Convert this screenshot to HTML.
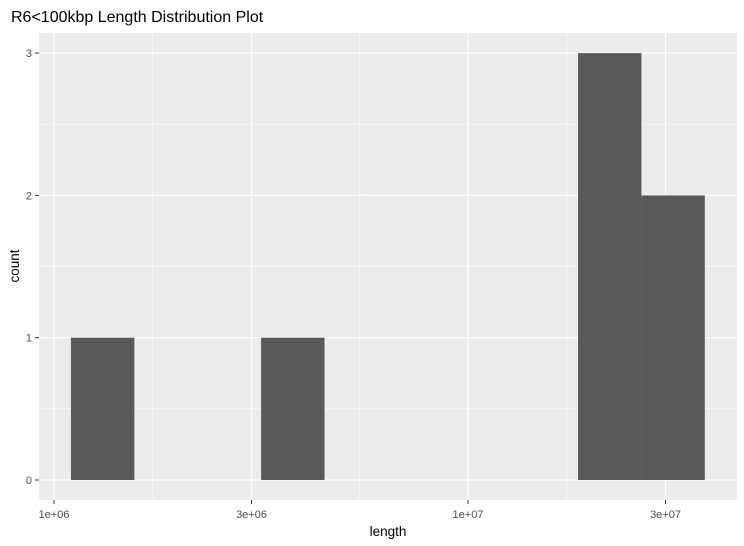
<!DOCTYPE html>
<html><head><meta charset="utf-8"><style>body{margin:0;background:#fff}svg{display:block;font-family:"Liberation Sans",sans-serif}</style></head>
<body>
<svg id="c" width="744" height="546">
<text x="11" y="22" font-size="16" fill="#000">R6&lt;100kbp Length Distribution Plot</text>
<rect x="39" y="33" width="698" height="467" fill="#ebebeb"/>
<g id="grid"></g><g id="bars"></g><g id="axes"></g>
<text x="388" y="536" font-size="13.5" text-anchor="middle">length</text>
<text transform="translate(19,266) rotate(-90)" font-size="13.5" text-anchor="middle">count</text>
</svg>
<script>
const binStartLog = 6.041;
const binWidthLog = 0.1531;
const counts = [1,0,0,1,0,0,0,0,3,2];
const yTicks = [0,1,2,3];
const xTickValues = [1e6,3e6,1e7,3e7];
const xTickLabels = ["1e+06","3e+06","1e+07","3e+07"];
const NS="http://www.w3.org/2000/svg";
const sx=v=>54+(Math.log10(v)-6)*414;
const sxl=l=>54+(l-6)*414;
const sy=v=>480-v*142.3;
function mk(t,a,p){const e=document.createElementNS(NS,t);for(const k in a)e.setAttribute(k,a[k]);p.appendChild(e);return e;}
const g=document.getElementById('grid'),b=document.getElementById('bars'),ax=document.getElementById('axes');
for(let i=0;i<yTicks.length-1;i++){const l=mk('line',{x1:39,x2:737,y1:sy(yTicks[i]+0.5),y2:sy(yTicks[i]+0.5),stroke:'#fff','stroke-width':0.6},g);

}
for(let i=0;i<xTickValues.length-1;i++){const m=Math.sqrt(xTickValues[i]*xTickValues[i+1]);const l=mk('line',{x1:sx(m),x2:sx(m),y1:33,y2:500,stroke:'#fff','stroke-width':0.6},g);

}
yTicks.forEach(v=>{const l=mk('line',{x1:39,x2:737,y1:sy(v),y2:sy(v),stroke:'#fff','stroke-width':1.2},g);


const t=mk('line',{x1:35,x2:39,y1:sy(v),y2:sy(v),stroke:'#333'},ax);


const tx=mk('text',{x:32,y:sy(v)+4,'font-size':11,fill:'#4d4d4d','text-anchor':'end'},ax);tx.textContent=v;

});
xTickValues.forEach((v,i)=>{const l=mk('line',{x1:sx(v),x2:sx(v),y1:33,y2:500,stroke:'#fff','stroke-width':1.2},g);


const t=mk('line',{x1:sx(v),x2:sx(v),y1:500,y2:504,stroke:'#333'},ax);


const tx=mk('text',{x:sx(v),y:518,'font-size':11,fill:'#4d4d4d','text-anchor':'middle'},ax);tx.textContent=xTickLabels[i];

});
counts.forEach((c,i)=>{if(!c)return;const x0=sxl(binStartLog+i*binWidthLog),x1=sxl(binStartLog+(i+1)*binWidthLog);
const r=mk('rect',{x:x0,y:sy(c),width:x1-x0,height:sy(0)-sy(c),fill:'#595959'},b);

});
</script>
</body></html>
